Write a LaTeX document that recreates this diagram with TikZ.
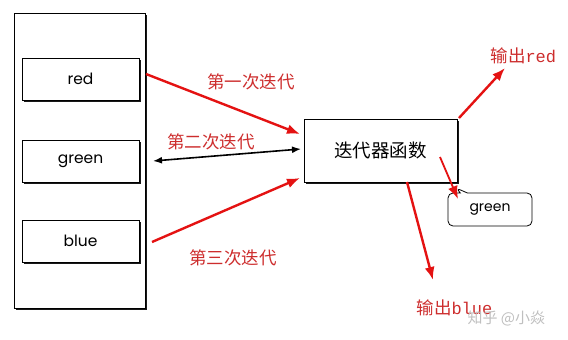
\documentclass[tikz,border=0pt]{standalone}
\usepackage{fontspec}
\setsansfont{Poppins}
\setmonofont{Liberation Mono}
\newfontfamily\cjk{Noto Sans CJK SC}
\usepackage{tikz}
\usetikzlibrary{arrows.meta, shadows, shapes.callouts, positioning}

\definecolor{arrowred}{RGB}{228,18,18}
\definecolor{textred}{RGB}{205,45,45}

\tikzset{
    boxshadow/.style={drop shadow={shadow xshift=1.8pt, shadow yshift=-1.8pt, fill=black, opacity=0.9}},
    itembox/.style={draw, thick, fill=white, minimum width=117pt, minimum height=42pt,
        font=\sffamily\fontsize{15.5}{15.5}\selectfont, boxshadow},
    redarrow/.style={line width=2.4pt, draw=arrowred, -{Latex[length=13pt, width=10pt]}},
    steplabel/.style={text=textred, font=\cjk\fontsize{17.5}{17.5}\selectfont},
}

\begin{document}
\begin{tikzpicture}[x=1pt, y=-1pt]
    \useasboundingbox (0,0) rectangle (568,340);

    % Danh sách bên trái
    \node[draw, thick, minimum width=131pt, minimum height=295pt, boxshadow,
        fill=white] (list) at (80,160.5) {};
    \node[itembox] (red) at (80.5,79) {red};
    \node[itembox] (green) at (80.5,161) {green};
    \node[itembox] (blue) at (80.5,241) {blue};

    % Hàm lặp
    \node[draw, thick, fill=white, minimum width=153pt, minimum height=63pt, boxshadow,
        font=\cjk\fontsize{18.5}{18.5}\selectfont] (func) at (380.5,150.5) {迭代器函数};

    % Kết quả
    \node[rectangle callout, draw, thick, rounded corners=5pt, minimum width=84pt,
        minimum height=33pt, font=\sffamily\fontsize{14}{14}\selectfont,
        callout absolute pointer={(456,188)}] (out) at (490,209.5) {green};

    % Các điểm đầu mút
    \coordinate (s1) at (146,74);
    \coordinate (s2) at (153,161);
    \coordinate (s3) at (152,242);
    \coordinate (r1) at (300,134);
    \coordinate (r2) at (301,149);
    \coordinate (r3) at (300,178);
    \coordinate (o1) at (459,118);
    \coordinate (t1) at (505,68);
    \coordinate (o2) at (440,157);
    \coordinate (t2) at (458,199);
    \coordinate (o3) at (407,182);
    \coordinate (t3) at (433,280);

    % Mũi tên
    \draw[redarrow] (s1) -- (r1);
    \draw[line width=1.6pt, {Latex[length=9pt, width=7pt]}-{Latex[length=9pt, width=7pt]}] (s2) -- (r2);
    \draw[redarrow] (s3) -- (r3);
    \draw[redarrow] (o1) -- (t1);
    \draw[redarrow, line width=1.8pt] (o2) -- (t2);
    \draw[redarrow] (o3) -- (t3);

    % Nhãn
    \node[steplabel] (l1) at (251,82) {第一次迭代};
    \node[steplabel] (l2) at (211,142) {第二次迭代};
    \node[steplabel] (l3) at (233,258) {第三次迭代};
    \node[steplabel, anchor=west] (lr) at (487,56) {输出{\ttfamily\fontsize{17}{17}\selectfont red}};
    \node[steplabel, anchor=west] (lb) at (413,308) {输出{\ttfamily\fontsize{17}{17}\selectfont blue}};
    \node[text=black!25, font=\cjk\fontsize{15}{15}\selectfont, anchor=west] (wm) at (464,318) {知乎 @小焱};
\end{tikzpicture}
\end{document}
